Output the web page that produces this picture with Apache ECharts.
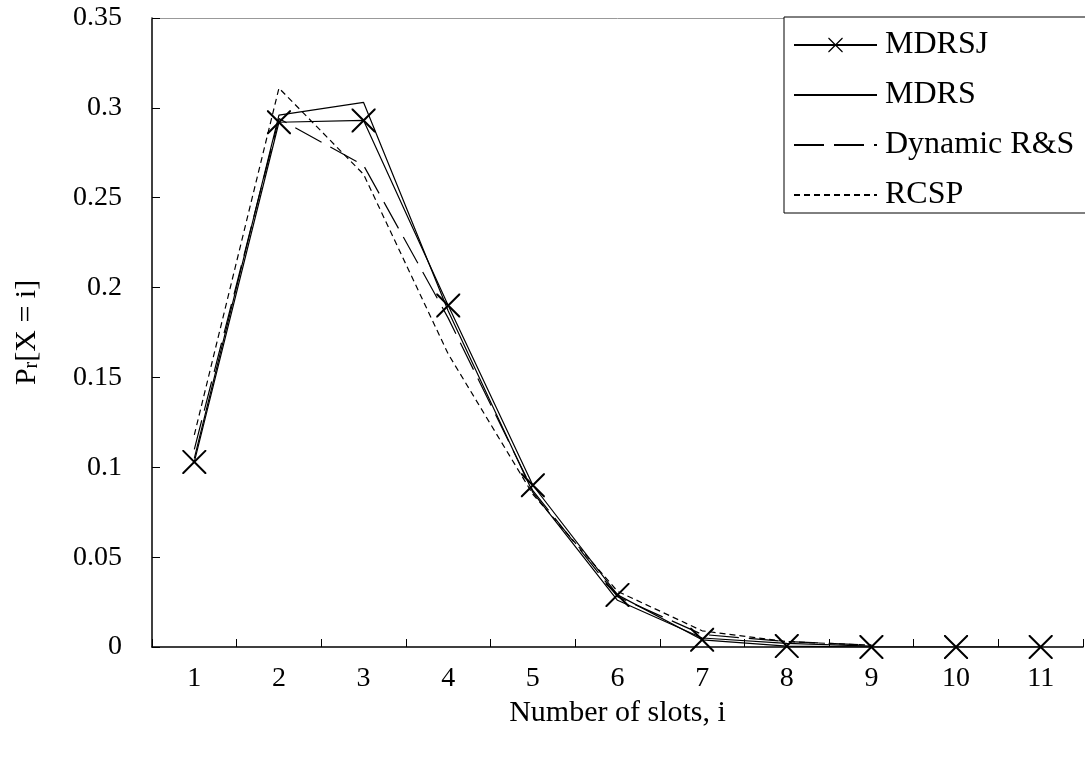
<!DOCTYPE html>
<html>
<head>
<meta charset="utf-8">
<script src="https://cdn.jsdelivr.net/npm/echarts@6/dist/echarts.min.js"></script>
<style>
  html, body { margin: 0; padding: 0; background: #fff; }
  #chart { width: 1085px; height: 758px; }
</style>
</head>
<body>
<div id="chart"></div>
<script>
// Slot counts on the x axis
const slots = ['1', '2', '3', '4', '5', '6', '7', '8', '9', '10', '11'];

// Probability of needing i slots, per scheme
const mdrsj   = [0.103, 0.292, 0.293, 0.190, 0.090, 0.029, 0.004, 0.0005, 0, 0, 0];
const mdrs    = [0.105, 0.296, 0.303, 0.187, 0.086, 0.026, 0.005, 0.002, 0.0005, null, null];
const dynamic = [0.110, 0.294, 0.268, 0.183, 0.087, 0.028, 0.007, 0.003, 0.001, null, null];
const rcsp    = [0.118, 0.311, 0.263, 0.163, 0.085, 0.031, 0.009, 0.003, 0.001, null, null];

const yTicks = [0, 0.05, 0.1, 0.15, 0.2, 0.25, 0.3, 0.35];

const FONT = '"Liberation Serif", "DejaVu Serif", serif';
// X-shaped marker built from two thin filled bars
const CROSS = 'path://M0,0L0.6,0L10,9.4L10,10L9.4,10L0,0.6Z M9.4,0L10,0L10,0.6L0.6,10L0,10L0,9.4Z';

const chart = echarts.init(document.getElementById('chart'), null, { renderer: 'canvas' });

function lineSeries(name, data, type, symbol) {
  return {
    name: name,
    type: 'line',
    data: data,
    symbol: symbol || 'none',
    symbolSize: 24,
    showSymbol: !!symbol,
    connectNulls: false,
    animation: false,
    itemStyle: { color: '#000' },
    lineStyle: { color: '#000', width: 1.2, type: type },
    emphasis: { disabled: true }
  };
}

// legend entries: only MDRSJ shows its cross marker
const hidden = { opacity: 0 };

chart.setOption({
  backgroundColor: '#fff',
  animation: false,
  grid: { left: 152, right: 2, top: 18, bottom: 111, containLabel: false },
  legend: {
    orient: 'vertical',
    left: 784,
    top: 17,
    itemWidth: 83,
    itemHeight: 18,
    itemGap: 18,
    padding: [12, 40, 2, 9],
    backgroundColor: '#fff',
    borderColor: '#000',
    borderWidth: 1,
    textStyle: { fontFamily: FONT, fontSize: 32, color: '#000', padding: [0, 0, 0, 3] },
    data: [
      { name: 'MDRSJ' },
      { name: 'MDRS', itemStyle: hidden },
      { name: 'Dynamic R&S', itemStyle: hidden },
      { name: 'RCSP', itemStyle: hidden }
    ]
  },
  xAxis: [{
    type: 'category',
    data: slots,
    boundaryGap: true,
    name: 'Number of slots, i',
    nameLocation: 'middle',
    nameGap: 50,
    nameTextStyle: { fontFamily: FONT, fontSize: 30, color: '#000' },
    axisLine: { show: true, lineStyle: { color: '#000', width: 1.5 } },
    axisTick: { show: true, inside: true, length: 8, alignWithLabel: false, lineStyle: { color: '#000' } },
    axisLabel: { fontFamily: FONT, fontSize: 28, color: '#000', margin: 18 },
    splitLine: { show: false }
  }, {
    type: 'category',
    position: 'top',
    data: slots,
    axisLine: { show: true, lineStyle: { color: '#999', width: 1 } },
    axisTick: { show: false },
    axisLabel: { show: false }
  }],
  yAxis: {
    type: 'value',
    min: 0,
    max: 0.35,
    interval: 0.05,
    name: '{p|P}{s|r}{p|[X = i]}',
    nameLocation: 'middle',
    nameGap: 110,
    nameRotate: 90,
    nameTextStyle: {
      fontFamily: FONT, fontSize: 30, color: '#000',
      rich: {
        p: { fontFamily: FONT, fontSize: 30, color: '#000' },
        s: { fontFamily: FONT, fontSize: 20, color: '#000', verticalAlign: 'bottom', padding: [10, 0, 0, 0] }
      }
    },
    axisLine: { show: true, lineStyle: { color: '#000', width: 1.5 } },
    axisTick: { show: true, inside: true, length: 8, lineStyle: { color: '#000' } },
    axisLabel: {
      fontFamily: FONT, fontSize: 28, color: '#000', margin: 30,
      formatter: function (v) {
        const hit = yTicks.find(t => Math.abs(t - v) < 1e-9);
        return hit === undefined ? '' : String(hit);
      }
    },
    splitLine: { show: false }
  },
  series: [
    lineSeries('MDRSJ', mdrsj, 'solid', CROSS),
    lineSeries('MDRS', mdrs, 'solid'),
    lineSeries('Dynamic R&S', dynamic, [30, 10]),
    lineSeries('RCSP', rcsp, [6, 4])
  ]
});
</script>
</body>
</html>
